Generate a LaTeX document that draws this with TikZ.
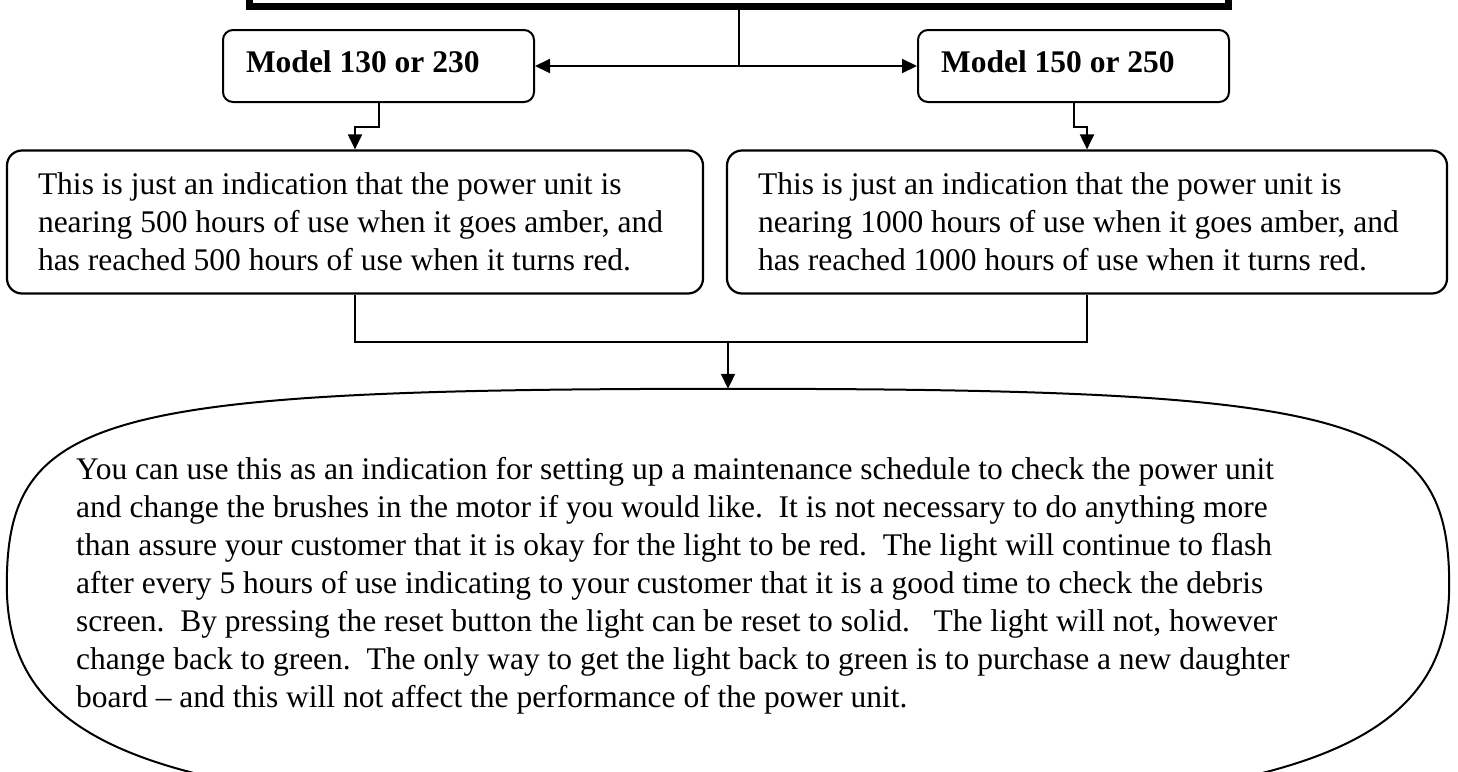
\documentclass[tikz,border=0pt]{standalone}
\usepackage{fontspec}
\setmainfont{Liberation Serif}
\usetikzlibrary{arrows.meta, positioning, shapes.geometric, calc}

\begin{document}
\begin{tikzpicture}[
    x=1pt, y=-1pt,
    every node/.style={font=\fontsize{31.5}{38}\selectfont},
    topbox/.style={
        rectangle, draw=black, line width=7pt,
        minimum width=979pt, minimum height=100pt, inner sep=0pt
    },
    model/.style={
        rectangle, rounded corners=10pt, draw=black, line width=2pt,
        minimum width=311pt, minimum height=72pt, inner xsep=23pt, inner ysep=0pt,
        text width=265pt, text depth=8pt, align=flush left,
        font=\fontsize{31.5}{38}\selectfont\bfseries
    },
    info/.style={
        rectangle, rounded corners=15pt, draw=black, line width=2.2pt,
        minimum height=143pt, inner xsep=31pt, inner ysep=0pt, align=flush left
    },
    note/.style={
        rectangle, minimum width=1442pt, minimum height=392pt, inner sep=0pt
    },
    noteline/.style={draw=black, line width=2pt},
    notetext/.style={inner sep=0pt, align=flush left, anchor=north west},
    link/.style={line width=2pt},
    arrow/.style={
        -{Triangle[length=15pt, width=14pt]}, line width=2pt
    }
]
    \useasboundingbox (0,0) rectangle (1458,771);
    \clip (0,0) rectangle (1458,771);

    % Header box (cut off at the top)
    \node[topbox] (header) at (739,-43.5) {};

    % Models
    \node[model] (m130) at (378.5,66) {Model 130 or 230};
    \node[model] (m150) at (1073.5,66) {Model 150 or 250};
    \coordinate (split) at (739,66);

    % Explanations
    \node[info, minimum width=696pt, text width=634pt] (t500) at (355,222)
        {This is just an indication that the power unit is\\
         nearing 500 hours of use when it goes amber, and\\
         has reached 500 hours of use when it turns red.};
    \node[info, minimum width=720pt, text width=658pt] (t1000) at (1087,222)
        {This is just an indication that the power unit is\\
         nearing 1000 hours of use when it goes amber, and\\
         has reached 1000 hours of use when it turns red.};

    % Advice (wide oval, bottom cut off)
    \node[note] (advice) at (728,585) {};
    \coordinate (ovbottom) at ($(advice.south)+(0,32)$);
    \draw[noteline]
        (advice.north) .. controls +(-627,0) and +(0,-171) .. (advice.west)
        .. controls +(0,173) and +(-548,0) .. (ovbottom)
        .. controls +(548,0) and +(0,173) .. (advice.east)
        .. controls +(0,-171) and +(627,0) .. (advice.north);
    \node[notetext] (advicetext) at (76,457)
        {You can use this as an indication for setting up a maintenance schedule to check the power unit\\
         and change the brushes in the motor if you would like.\ \ It is not necessary to do anything more\\
         than assure your customer that it is okay for the light to be red.\ \ The light will continue to flash\\
         after every 5 hours of use indicating to your customer that it is a good time to check the debris\\
         screen.\ \ By pressing the reset button the light can be reset to solid.\ \ \ The light will not, however\\
         change back to green.\ \ The only way to get the light back to green is to purchase a new daughter\\
         board – and this will not affect the performance of the power unit.};
    \coordinate (merge) at (728,342);

    % Links
    \draw[link] (header.south) -- (split);
    \draw[arrow] (split) -- (m130.east);
    \draw[arrow] (split) -- (m150.west);

    \draw[arrow] (m130.south) -- ++(0,24) -| (t500.north);
    \draw[arrow] (m150.south) -- ++(0,24) -| (t1000.north);

    \draw[link] (t500.south) |- (merge) -| (t1000.south);
    \draw[arrow] (merge) -- (advice.north);

\end{tikzpicture}
\end{document}
